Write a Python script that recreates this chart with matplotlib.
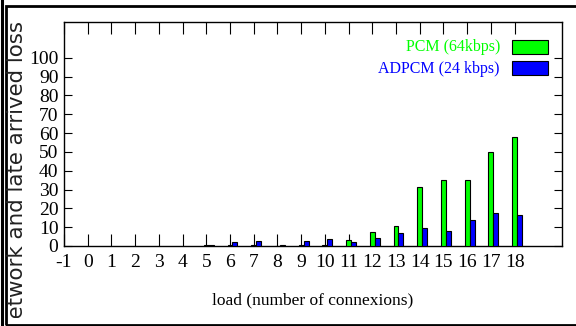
import matplotlib
matplotlib.use("Agg")
import matplotlib.pyplot as plt
from matplotlib.patches import Rectangle
from matplotlib.lines import Line2D
from matplotlib.transforms import Bbox
import numpy as np

# loss (%) per load level for each codec
load = [5, 6, 7, 8, 9, 10, 11, 12, 13, 14, 15, 16, 17, 18]
pcm = [0.3, 0.3, 0.4, 0.2, 0.4, 0.5, 3.4, 7.3, 10.6, 31.5, 35.2, 35.2, 49.8, 58.0]
adpcm = [0.5, 2.0, 2.7, 0.7, 2.8, 3.6, 2.1, 4.3, 6.9, 9.4, 7.8, 13.7, 17.6, 16.5]
xticks = list(range(-1, 19))
yticks = list(range(0, 101, 10))

W, H = 576, 326
serif = "Liberation Serif"

fig = plt.figure(figsize=(W / 100, H / 100), dpi=100)

def fx(px):
    return px / W

def fy(py):
    return 1 - py / H

ax = fig.add_axes([fx(64), fy(246), fx(562) - fx(64), fy(22) - fy(246)])

x = np.array(load)
bw = 0.21
ax.bar(x, pcm, width=bw, color="#00ff00", edgecolor="black", linewidth=0.8, zorder=3)
ax.bar(x + bw, adpcm, width=bw, color="#0000ff", edgecolor="black", linewidth=0.8, zorder=3)

ax.set_xlim(-1, 20)
ax.set_ylim(0, 119)
ax.set_xticks(xticks)
ax.set_yticks(yticks)
ax.set_xticklabels([str(v) for v in xticks], family=serif, fontsize=14)
ax.set_yticklabels([str(v) for v in yticks], family=serif, fontsize=14)
ax.tick_params(axis="x", direction="in", length=8.6, width=0.8, top=True, pad=6)
ax.tick_params(axis="y", direction="in", length=5.8, width=0.8, right=True, pad=4)
for s in ax.spines.values():
    s.set_linewidth(1.0)

# key, gnuplot style: text right-aligned, swatch to the right
ax.add_patch(Rectangle((0.8996, 0.857), 0.0723, 0.0626, transform=ax.transAxes,
                       facecolor="#00ff00", edgecolor="black", linewidth=0.8, clip_on=False))
ax.add_patch(Rectangle((0.8996, 0.763), 0.0723, 0.0626, transform=ax.transAxes,
                       facecolor="#0000ff", edgecolor="black", linewidth=0.8, clip_on=False))
ax.text(0.8755, 0.888, "PCM (64kbps)", transform=ax.transAxes, ha="right", va="center",
        color="#00ff00", family=serif, fontsize=11.5)
ax.text(0.8755, 0.792, "ADPCM (24 kbps)", transform=ax.transAxes, ha="right", va="center",
        color="#0000ff", family=serif, fontsize=11.5)

fig.text(fx(313), fy(300), "load (number of connexions)", ha="center", va="center",
         family=serif, fontsize=12.5)

# y label runs past the frame at the bottom and gets cut there
ylab = fig.text(fx(17), fy(21), "network and late arrived loss", rotation=90,
                ha="center", va="top", family="DejaVu Sans", fontsize=15.4,
                color="#222222")
ylab.set_clip_on(True)
ylab.set_clip_box(Bbox.from_extents(0, H - 318, W, H))

# page frame
fig.add_artist(Line2D([fx(2), fx(2)], [0, 1], color="black", linewidth=2.2))
fig.add_artist(Rectangle((fx(6), fy(324.5)), 1.1, fy(6) - fy(324.5), transform=fig.transFigure,
                         fill=False, edgecolor="black", linewidth=2.0))

fig.savefig("out.png", dpi=100)
